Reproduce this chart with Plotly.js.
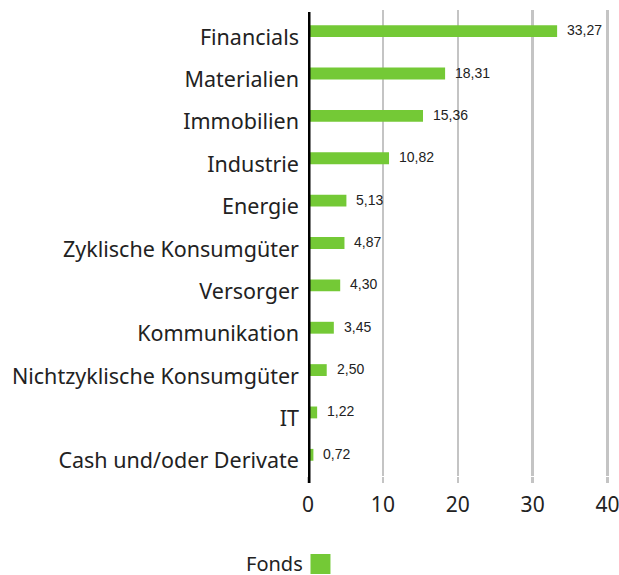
<!DOCTYPE html>
<html>
<head>
<meta charset="utf-8">
<script src="https://cdn.plot.ly/plotly-3.0.1.min.js"></script>
<style>html,body{margin:0;padding:0;background:#fff;}#chart{width:619px;height:575px;}</style>
</head>
<body>
<div id="chart"></div>
<script>
const categories = ["Financials","Materialien","Immobilien","Industrie","Energie","Zyklische Konsumgüter","Versorger","Kommunikation","Nichtzyklische Konsumgüter","IT","Cash und/oder Derivate"];
const values = [33.27,18.31,15.36,10.82,5.13,4.87,4.30,3.45,2.50,1.22,0.72];
const seriesName = "Fonds";
const xTicks = [0,10,20,30,40];

const fmt = v => v.toFixed(2).replace('.', ',');
const green = '#74c936';
const font = 'Noto Sans, sans-serif';

const M = {l: 307.5, r: 4, t: 10, b: 99};
const plotW = 619 - M.l - M.r, plotH = 575 - M.t - M.b;
const px2x = px => (px - M.l) / plotW;
const py2y = py => (575 - M.b - py) / plotH;

const trace = {
  type: 'bar', orientation: 'h', name: seriesName,
  x: values, y: categories,
  marker: {color: green},
  hoverinfo: 'none', showlegend: false
};

const annotations = values.map((v, i) => ({
  x: v, y: categories[i], xref: 'x', yref: 'y',
  text: fmt(v), showarrow: false, xanchor: 'left', xshift: 8, yshift: 1,
  font: {family: 'Liberation Sans, Arial, sans-serif', size: 14, color: '#222'}
}));

annotations.push({
  x: px2x(303), y: py2y(563), xref: 'paper', yref: 'paper', text: seriesName,
  showarrow: false, xanchor: 'right', yanchor: 'middle', borderpad: 0, height: 22,
  font: {family: font, size: 20, color: '#222'}
});

const layout = {
  width: 619, height: 575,
  margin: M,
  paper_bgcolor: '#fff', plot_bgcolor: '#fff',
  bargap: 0.72,
  xaxis: {
    range: [0, 41], tickvals: xTicks, ticktext: xTicks.map(String),
    showgrid: true, gridcolor: '#c4c4c4', gridwidth: 2.5,
    zeroline: false, showline: false,
    ticks: 'outside', ticklen: 6, tickwidth: 2.5, tickcolor: '#c4c4c4',
    ticklabelstandoff: 4, ticklabeloverflow: 'allow',
    tickfont: {family: font, size: 21, color: '#222'}
  },
  yaxis: {
    autorange: 'reversed', categoryorder: 'array', categoryarray: categories,
    showgrid: false, zeroline: false, showline: false, ticks: '', ticklabelstandoff: 8,
    ticklabelshift: -6,
    tickfont: {family: font, size: 21.5, color: '#222'}
  },
  shapes: [
    {type: 'line', xref: 'x', yref: 'paper', x0: 0, x1: 0, y0: py2y(483), y1: py2y(12), line: {color: '#000', width: 5}},
    {type: 'rect', xref: 'paper', yref: 'paper', x0: px2x(310), x1: px2x(330), y0: py2y(574), y1: py2y(554), fillcolor: green, line: {width: 0}}
  ],
  annotations: annotations,
  showlegend: false
};

Plotly.newPlot('chart', [trace], layout, {displayModeBar: false, staticPlot: true});
</script>
</body>
</html>
